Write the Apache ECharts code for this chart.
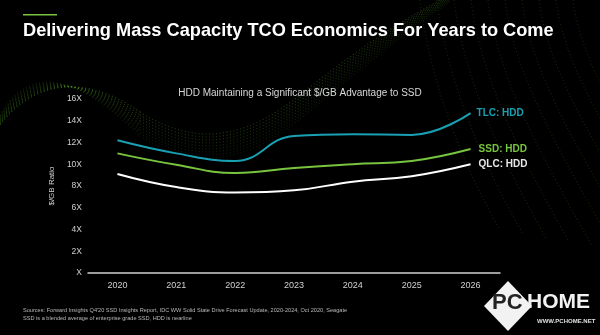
<!DOCTYPE html>
<html>
<head>
<meta charset="utf-8">
<script src="https://cdn.jsdelivr.net/npm/echarts@6/dist/echarts.min.js"></script>
<style>
  html, body { margin: 0; padding: 0; background: #000; }
  #chart { width: 600px; height: 335px; }
</style>
</head>
<body>
<div id="chart"></div>
<script>
// Years on the x axis
const years = ['2020', '2021', '2022', '2023', '2024', '2025', '2026'];
// $/GB ratio of flash vs. nearline HDD
const tlcHdd = [12.2, 11.0, 10.3, 12.6, 12.75, 12.7, 14.7];
const ssdHdd = [11.0, 9.95, 9.2, 9.65, 10.0, 10.3, 11.4];
const qlcHdd = [9.1, 7.9, 7.4, 7.6, 8.4, 8.9, 10.0];
// Y tick labels (value -> text)
const yTicks = [0, 2, 4, 6, 8, 10, 12, 14, 16];
const yTickText = ['X', '2X', '4X', '6X', '8X', '10X', '12X', '14X', '16X'];

const FONT = '"Liberation Sans", Arial, sans-serif';
const TEAL = '#19a0b3';
const GREEN = '#78c43f';

// Dotted green waves in the background
function bez(x1, y1, c1x, c1y, c2x, c2y, x2, y2, opacity) {
  return {
    type: 'bezierCurve', silent: true, z: -10,
    shape: { x1: x1, y1: y1, cpx1: c1x, cpy1: c1y, cpx2: c2x, cpy2: c2y, x2: x2, y2: y2 },
    style: { fill: null, stroke: '#5fae2e', lineWidth: 1.2, opacity: opacity, lineDash: [1, 2.5] }
  };
}
const waves = [];
for (let i = 0; i < 9; i++) {
  const o = i * 3;
  const op = 0.42 - i * 0.03;
  waves.push(bez(0, 125 - o * 0.4, 30, 85 - o, 80, 70 + o * 0.3, 140, 112 + o, op));
  waves.push(bez(140, 112 + o, 200, 150 + o, 250, 135 + o, 300, 95 + o, op * 0.8));
  waves.push(bez(300, 95 + o, 350, 55 + o, 400, 20 + o * 0.6, 450, -5 + o * 0.3, op * 0.8));
}
for (let i = 0; i < 10; i++) {
  const x0 = 420 + i * 17;
  waves.push(bez(x0, 0, x0 + 10, 80, x0 + 40 + i * 4, 160, x0 + 80 + i * 6, 230 + i * 4, 0.2));
}

const chart = echarts.init(document.getElementById('chart'), null, { renderer: 'canvas' });
chart.setOption({
  backgroundColor: '#000',
  animation: false,
  grid: { left: 88, right: 100, top: 99, bottom: 62 },
  xAxis: {
    type: 'category',
    data: years,
    boundaryGap: true,
    axisLine: { show: true, lineStyle: { color: '#cfcfcf', width: 1.5 } },
    axisTick: { show: false },
    axisLabel: { color: '#d0d0d0', fontFamily: FONT, fontSize: 9, margin: 8 }
  },
  yAxis: {
    type: 'value',
    min: 0, max: 16, interval: 2,
    name: '$/GB Ratio',
    nameLocation: 'middle',
    nameGap: 23,
    nameRotate: 90,
    nameTextStyle: { color: '#d0d0d0', fontFamily: FONT, fontSize: 8 },
    axisLine: { show: false },
    axisTick: { show: false },
    splitLine: { show: false },
    axisLabel: {
      color: '#d0d0d0', fontFamily: FONT, fontSize: 8.5, margin: 6,
      formatter: v => yTickText[yTicks.indexOf(v)]
    }
  },
  series: [
    {
      name: 'TLC: HDD', type: 'line', data: tlcHdd, smooth: 0.45, symbol: 'none',
      lineStyle: { color: TEAL, width: 2 },
      endLabel: { show: true, formatter: 'TLC: HDD', color: TEAL, fontFamily: FONT, fontWeight: 'bold', fontSize: 10, distance: 6 }
    },
    {
      name: 'SSD: HDD', type: 'line', data: ssdHdd, smooth: 0.45, symbol: 'none',
      lineStyle: { color: GREEN, width: 2 },
      endLabel: { show: true, formatter: 'SSD: HDD', color: GREEN, fontFamily: FONT, fontWeight: 'bold', fontSize: 10, distance: 8 }
    },
    {
      name: 'QLC: HDD', type: 'line', data: qlcHdd, smooth: 0.45, symbol: 'none',
      lineStyle: { color: '#ffffff', width: 2 },
      endLabel: { show: true, formatter: 'QLC: HDD', color: '#e8e8e8', fontFamily: FONT, fontWeight: 'bold', fontSize: 10, distance: 8 }
    }
  ],
  graphic: waves.concat([
    { type: 'rect', silent: true, shape: { x: 23, y: 14, width: 34, height: 1.5 }, style: { fill: GREEN } },
    {
      type: 'text', left: 23, top: 22,
      style: { text: 'Delivering Mass Capacity TCO Economics For Years to Come', fill: '#ffffff',
        font: 'bold 18.2px ' + FONT }
    },
    {
      type: 'text', left: 'center', top: 88,
      style: { text: 'HDD Maintaining a Significant $/GB Advantage to SSD', fill: '#d8d8d8',
        font: '10px ' + FONT }
    },
    {
      type: 'text', left: 23, top: 306,
      style: { text: "Sources: Forward Insights Q4'20 SSD Insights Report, IDC WW Solid State Drive Forecast Update, 2020-2024, Oct 2020, Seagate\nSSD is a blended average of enterprise grade SSD, HDD is nearline",
        fill: '#b8b8b8', font: '5.6px ' + FONT, lineHeight: 8 }
    },
    // PCHOME mark, bottom right
    { type: 'polygon', silent: true, shape: { points: [[508, 281], [532, 306], [508, 331], [484, 306]] }, style: { fill: '#f2f2f2' } },
    { type: 'text', left: 492, top: 292, style: { text: 'PC', fill: '#222', font: 'bold 22px ' + FONT } },
    { type: 'text', left: 527, top: 292, style: { text: 'HOME', fill: '#f2f2f2', font: 'bold 21px ' + FONT } },
    { type: 'text', left: 537, top: 318, style: { text: 'WWW.PCHOME.NET', fill: '#e0e0e0', font: 'bold 6px ' + FONT } }
  ])
});
</script>
</body>
</html>
